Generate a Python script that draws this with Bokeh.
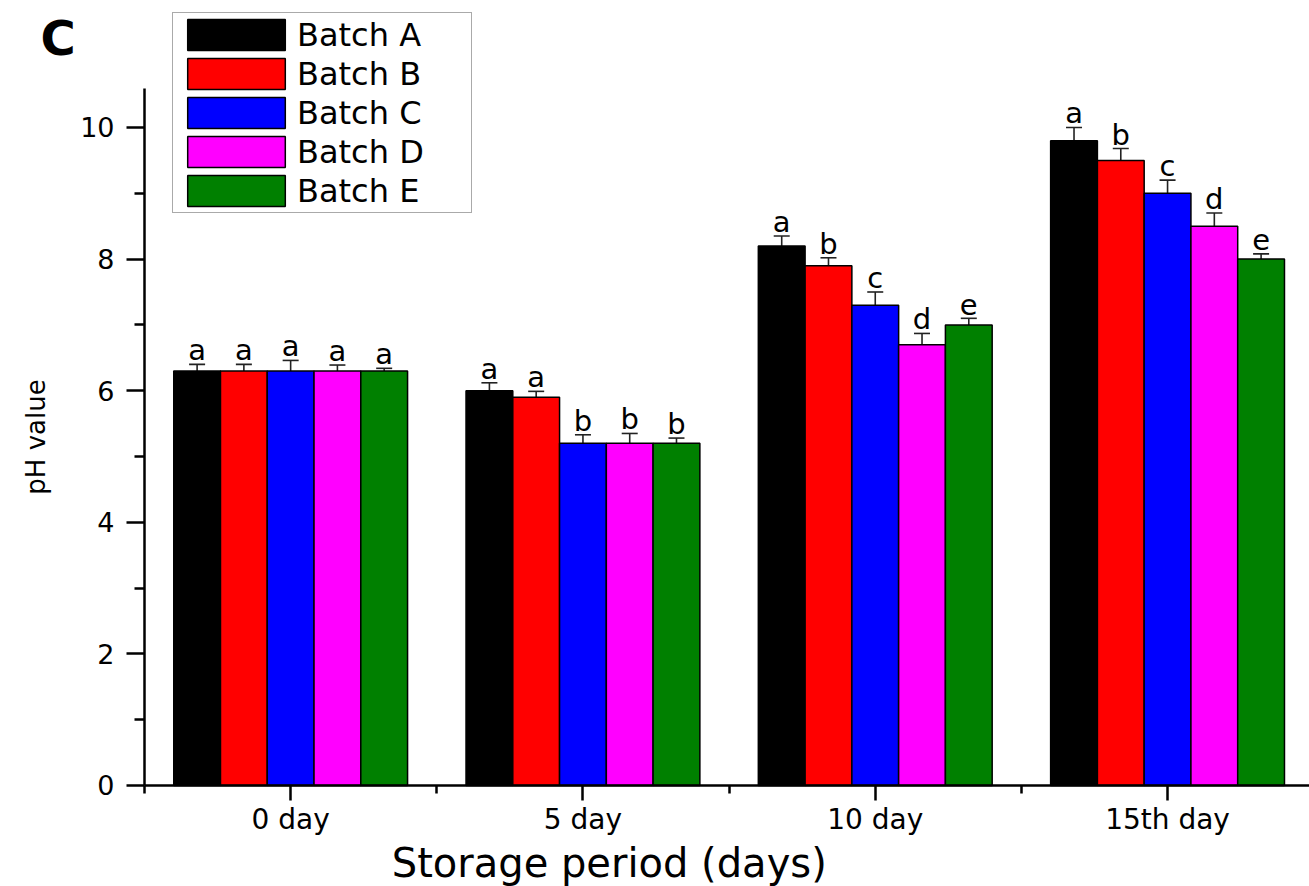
from bokeh.plotting import figure
from bokeh.models import (Range1d, FixedTicker, Legend, LegendItem, Whisker,
                          ColumnDataSource, Label, TeeHead)
from bokeh.core.properties import value
from bokeh.embed import file_html
from bokeh.resources import INLINE

# ---- data ----
days = ["0 day", "5 day", "10 day", "15th day"]
batches = ["Batch A", "Batch B", "Batch C", "Batch D", "Batch E"]
colors = ["#000000", "#ff0000", "#0000ff", "#ff00ff", "#008000"]

ph_a = [6.3, 6.0, 8.2, 9.8]
ph_b = [6.3, 5.9, 7.9, 9.5]
ph_c = [6.3, 5.2, 7.3, 9.0]
ph_d = [6.3, 5.2, 6.7, 8.5]
ph_e = [6.3, 5.2, 7.0, 8.0]

err_a = [0.10, 0.12, 0.15, 0.20]
err_b = [0.10, 0.09, 0.12, 0.18]
err_c = [0.16, 0.13, 0.20, 0.20]
err_d = [0.09, 0.15, 0.17, 0.20]
err_e = [0.04, 0.08, 0.10, 0.08]

sig_a = ["a", "a", "a", "a"]
sig_b = ["a", "a", "b", "b"]
sig_c = ["a", "b", "c", "c"]
sig_d = ["a", "b", "d", "d"]
sig_e = ["a", "b", "e", "e"]

y_ticks = [0, 2, 4, 6, 8, 10]
y_minor = [1, 3, 5, 7, 9]

values = [ph_a, ph_b, ph_c, ph_d, ph_e]
errors = [err_a, err_b, err_c, err_d, err_e]
sigs = [sig_a, sig_b, sig_c, sig_d, sig_e]

FONT = "DejaVu Sans"

# whole canvas is the frame; axes are pinned at x=-0.5 and y=0
p = figure(width=1309, height=886, output_backend="svg", toolbar_location=None,
           x_range=Range1d(-0.9926, 3.4856), y_range=Range1d(-1.535, 11.93),
           min_border=0, min_border_left=0, min_border_right=0,
           min_border_top=0, min_border_bottom=0)
p.outline_line_color = None
p.grid.visible = False
p.background_fill_color = "white"
p.border_fill_color = "white"

bw = 0.16
legend_items = []
for j, (name, col, vals, errs, sg) in enumerate(zip(batches, colors, values, errors, sigs)):
    xs = [i + (j - 2) * bw for i in range(len(days))]
    src = ColumnDataSource(dict(
        x=xs, top=vals,
        upper=[v + e for v, e in zip(vals, errs)],
        lower=[v - e for v, e in zip(vals, errs)],
        lab=sg))
    r = p.vbar(x="x", top="top", bottom=0, width=bw, fill_color=col,
               line_color="black", line_width=1.5, source=src)
    legend_items.append(LegendItem(label=name, renderers=[r]))
    w = Whisker(base="x", upper="upper", lower="lower", source=src,
                line_color="#222222", line_width=1.6,
                upper_head=TeeHead(size=16, line_color="#222222", line_width=1.6),
                lower_head=TeeHead(size=16, line_color="#222222", line_width=1.6))
    p.add_layout(w)
    p.text(x="x", y="upper", text="lab", source=src, text_align="center",
           text_baseline="middle", y_offset=-14, text_font=value(FONT),
           text_font_size="29px", text_color="black")

# axes
p.xaxis.ticker = FixedTicker(ticks=list(range(len(days))),
                             minor_ticks=[k - 0.5 for k in range(len(days) + 1)])
p.xaxis.major_label_overrides = {i: d for i, d in enumerate(days)}
p.yaxis.ticker = FixedTicker(ticks=y_ticks, minor_ticks=y_minor)
p.xaxis.fixed_location = 0
p.yaxis.fixed_location = -0.5
p.xaxis.bounds = (-0.5, 3.4856)
p.yaxis.bounds = (0, 10.59)

for ax in (p.xaxis[0], p.yaxis[0]):
    ax.axis_line_width = 2.5
    ax.axis_line_color = "black"
    ax.major_tick_line_width = 2.5
    ax.minor_tick_line_width = 2.5
    ax.major_tick_line_color = "black"
    ax.minor_tick_line_color = "black"
    ax.major_tick_in = 0
    ax.minor_tick_in = 0
    ax.major_label_text_font = FONT
    ax.major_label_text_font_size = "28px"
    ax.major_label_text_color = "black"
    ax.axis_label_text_font = FONT
    ax.axis_label_text_font_style = "normal"
    ax.axis_label_text_color = "black"

p.yaxis.major_label_text_font_size = "27px"
p.yaxis.major_tick_out = 18
p.yaxis.minor_tick_out = 10
p.yaxis.major_label_standoff = 12
p.yaxis.axis_label = "pH value"
p.yaxis.axis_label_text_font_size = "26px"
p.yaxis.axis_label_standoff = 26

p.xaxis.major_tick_out = 15
p.xaxis.minor_tick_out = 8
p.xaxis.major_label_standoff = 3

# x-axis title placed where the reference has it
p.add_layout(Label(x=1.09, y=-1.185, text="Storage period (days)", text_font=FONT,
                   text_font_size="40px", text_color="black",
                   text_align="center", text_baseline="middle"))

legend = Legend(items=legend_items, location=(172, 673), glyph_width=122,
                glyph_height=39, label_text_font=FONT, label_text_font_size="32px",
                label_text_color="black",
                label_standoff=0, spacing=0, padding=2, margin=0,
                border_line_color="#555555", border_line_width=1.5,
                label_width=172, background_fill_color="white",
                background_fill_alpha=1.0)
p.add_layout(legend)

p.add_layout(Label(x=-0.856, y=11.36, text="C", text_font=FONT,
                   text_font_size="48px", text_font_style="bold",
                   text_color="black", text_baseline="middle"))

open("out.html", "w").write(file_html(p, INLINE))
